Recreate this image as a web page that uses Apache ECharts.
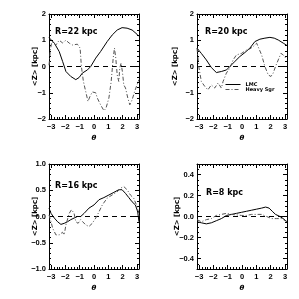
<!DOCTYPE html>
<html><head><meta charset="utf-8">
<script src="https://cdn.jsdelivr.net/npm/echarts@6/dist/echarts.min.js"></script>
<style>html,body{margin:0;padding:0;background:#fff}#c{width:299px;height:299px}</style>
</head><body><div id="c"></div>
<script>
// ---- data ----
const panelLabels = ['R=22 kpc', 'R=20 kpc', 'R=16 kpc', 'R=8 kpc'];
const xTicks = [-3, -2, -1, 0, 1, 2, 3];
const yTicks1 = [-2, -1, 0, 1, 2];
const yTicks2 = [-2, -1, 0, 1, 2];
const yTicks3 = [-1, -0.5, 0, 0.5, 1];
const yTicks4 = [-0.4, -0.2, 0, 0.2, 0.4];
const yDecimals = [0, 0, 1, 1];
const yRanges = [[-2, 2], [-2, 2], [-1, 1], [-0.5, 0.5]];
const yMinorStep = [0.2, 0.2, 0.1, 0.05];

// R=22 kpc
const th22L = [-3.14,-3.07,-2.77,-2.43,-2.19,-1.96,-1.62,-1.27,-1.04,-0.81,-0.46,-0.23,0.12,0.46,0.92,1.27,1.62,1.96,2.31,2.66,3.0,3.14];
const z22L  = [1.1,1.08,0.89,0.57,0.19,-0.19,-0.38,-0.5,-0.42,-0.25,-0.13,0,0.32,0.57,0.95,1.2,1.39,1.48,1.46,1.39,1.23,1.15];
const th22S = [-3.14,-3.05,-2.95,-2.66,-2.43,-2.2,-1.96,-1.73,-1.5,-1.16,-0.97,-0.88,-0.74,-0.58,-0.42,-0.28,-0.12,0.12,0.23,0.46,0.69,0.83,1.04,1.2,1.34,1.43,1.52,1.62,1.73,1.8,1.89,1.98,2.08,2.2,2.36,2.5,2.66,2.84,3.0,3.14];
const z22S  = [0.05,0.6,0.95,0.82,1.0,0.9,1.0,0.89,0.82,0.85,0.7,0,-0.57,-0.95,-1.33,-1.14,-0.97,-1.0,-1.2,-1.46,-1.68,-1.6,-1.2,-0.57,0.32,0.7,0.32,-0.32,-0.57,-0.06,0.13,-0.19,-0.7,-0.82,-1.2,-1.46,-1.27,-0.95,-0.7,-0.5];

// R=20 kpc
const th20L = [-3.14,-2.84,-2.49,-2.14,-1.79,-1.44,-1.08,-0.85,-0.5,-0.15,0.2,0.55,0.9,1.25,1.6,1.95,2.25,2.53,2.88,3.14];
const z20L  = [0.7,0.5,0.25,-0.04,-0.23,-0.19,-0.13,0,0.19,0.38,0.53,0.7,0.95,1.04,1.08,1.11,1.08,1.01,0.89,0.8];
const th20S = [-3.14,-3.0,-2.84,-2.61,-2.38,-2.14,-1.91,-1.67,-1.44,-1.32,-1.09,-0.85,-0.62,-0.39,-0.03,0.32,0.55,0.78,1.02,1.13,1.37,1.6,1.83,2.02,2.18,2.34,2.53,2.72,2.88,3.05,3.14];
const z20S  = [0.7,-0.06,-0.57,-0.75,-0.89,-0.7,-0.82,-0.63,-0.82,-0.57,-0.25,-0.06,0.25,0.44,0.5,0.63,0.67,0.76,0.89,0.82,0.44,0,-0.32,-0.38,-0.25,0,0.25,0.5,0.44,0.32,0.35];

// R=16 kpc
const th16L = [-3.14,-3.0,-2.77,-2.54,-2.31,-2.08,-1.85,-1.62,-1.39,-1.16,-0.93,-0.69,-0.35,0,0.35,0.69,1.04,1.39,1.73,1.96,2.2,2.43,2.66,2.89,3.05,3.14];
const z16L  = [0.16,0.06,-0.03,-0.1,-0.15,-0.13,-0.1,-0.06,-0.03,0,0,0.06,0.16,0.22,0.32,0.36,0.41,0.46,0.51,0.51,0.44,0.36,0.28,0.22,0.09,-0.1];
const th16S = [-3.14,-3.0,-2.89,-2.66,-2.43,-2.2,-2.08,-1.96,-1.73,-1.57,-1.39,-1.27,-1.11,-0.93,-0.58,-0.35,-0.12,0.12,0.35,0.58,0.92,1.27,1.62,1.85,2.08,2.31,2.54,2.77,2.96,3.1,3.14];
const z16S  = [0.03,-0.1,-0.22,-0.35,-0.35,-0.3,-0.35,-0.16,0.06,0.13,0.06,-0.1,-0.13,-0.06,-0.16,-0.19,-0.13,-0.03,0.09,0.22,0.35,0.41,0.47,0.54,0.57,0.51,0.41,0.35,0.22,0.09,0];

// R=8 kpc
const th8L = [-3.14,-2.84,-2.49,-2.14,-1.79,-1.44,-1.08,-0.73,-0.38,-0.03,0.32,0.67,1.02,1.37,1.65,1.89,2.11,2.34,2.65,2.88,3.14];
const z8L  = [-0.05,-0.06,-0.07,-0.06,-0.04,-0.02,0.01,0.02,0.03,0.04,0.05,0.06,0.07,0.08,0.09,0.08,0.05,0.02,0,-0.02,-0.05];
const th8S = [-3.14,-2.84,-2.49,-2.14,-1.79,-1.44,-1.08,-0.73,-0.38,-0.03,0.32,0.67,1.02,1.37,1.72,2.07,2.42,2.77,3.14];
const z8S  = [-0.03,-0.05,-0.03,-0.02,0.01,0.02,0.03,0.02,0.015,0.01,0.01,0.02,0.02,0.02,0,-0.02,-0.02,-0.02,-0.05];

// ---- chart ----
const PI = Math.PI;
const grids = [
  {left: 49, top: 14, width: 90, height: 105},
  {left: 197, top: 14, width: 90, height: 105},
  {left: 49, top: 164, width: 90, height: 105},
  {left: 197, top: 164, width: 90, height: 105}
];
const yTickSets = [yTicks1, yTicks2, yTicks3, yTicks4];
const yNameGap = [10, 18, 10, 16];
const lmcT = [th22L, th20L, th16L, th8L], lmcZ = [z22L, z20L, z16L, z8L];
const sgrT = [th22S, th20S, th16S, th8S], sgrZ = [z22S, z20S, z16S, z8S];

function range(a, b, s) { const r = []; for (let v = a; v <= b + 1e-9; v += s) r.push(+v.toFixed(4)); return r; }
const zip = (a, b) => a.map((v, i) => [v, b[i]]);
const font = 'DejaVu Sans';
const tickFont = 'Liberation Sans';
const xMinor = range(-3, 3, 0.2);
const line = (show) => ({show: show, onZero: false, lineStyle: {color: '#000', width: 1}});

const xAxes = [], yAxes = [], series = [];
grids.forEach((g, i) => {
  const base = {type: 'value', gridIndex: i, min: -PI, max: PI, splitLine: {show: false}};
  xAxes.push(Object.assign({}, base, {position: 'bottom', axisLine: line(true),
    axisTick: {show: true, inside: true, length: 4, customValues: xTicks, lineStyle: {color: '#000'}},
    axisLabel: {show: true, customValues: xTicks, margin: 4, fontSize: 7.5, fontWeight: 'bold', color: '#000', fontFamily: tickFont,
      formatter: v => String(Math.round(v)).replace('-', '−')},
    name: 'θ', nameLocation: 'middle', nameGap: 16, nameMoveOverlap: false,
    nameTextStyle: {fontSize: 7, fontStyle: 'italic', fontWeight: 'bold', color: '#000', fontFamily: font}}));
  xAxes.push(Object.assign({}, base, {position: 'bottom', axisLine: line(false),
    axisTick: {show: true, inside: true, length: 2, customValues: xMinor, lineStyle: {color: '#000'}}, axisLabel: {show: false}}));
  xAxes.push(Object.assign({}, base, {position: 'top', axisLine: line(true),
    axisTick: {show: true, inside: true, length: 4, customValues: xTicks, lineStyle: {color: '#000'}}, axisLabel: {show: false}}));
  xAxes.push(Object.assign({}, base, {position: 'top', axisLine: line(false),
    axisTick: {show: true, inside: true, length: 2, customValues: xMinor, lineStyle: {color: '#000'}}, axisLabel: {show: false}}));

  const yt = yTickSets[i];
  const yMinor = range(yRanges[i][0], yRanges[i][1], yMinorStep[i]);
  const ybase = {type: 'value', gridIndex: i, min: yRanges[i][0], max: yRanges[i][1], splitLine: {show: false}};
  yAxes.push(Object.assign({}, ybase, {position: 'left', axisLine: line(true),
    axisTick: {show: true, inside: true, length: 4, customValues: yt, lineStyle: {color: '#000'}},
    axisLabel: {show: true, customValues: yt, margin: 3, fontSize: 7.5, fontWeight: 'bold', color: '#000', fontFamily: tickFont,
      formatter: v => v.toFixed(yDecimals[i]).replace('-', '−')},
    name: '<Z> [kpc]', nameLocation: 'middle', nameGap: yNameGap[i], nameMoveOverlap: false,
    nameTextStyle: {fontSize: 7, fontWeight: 'bold', color: '#000', fontFamily: font}}));
  yAxes.push(Object.assign({}, ybase, {position: 'left', axisLine: line(false),
    axisTick: {show: true, inside: true, length: 2, customValues: yMinor, lineStyle: {color: '#000'}}, axisLabel: {show: false}}));
  yAxes.push(Object.assign({}, ybase, {position: 'right', axisLine: line(true),
    axisTick: {show: true, inside: true, length: 4, customValues: yt, lineStyle: {color: '#000'}}, axisLabel: {show: false}}));
  yAxes.push(Object.assign({}, ybase, {position: 'right', axisLine: line(false),
    axisTick: {show: true, inside: true, length: 2, customValues: yMinor, lineStyle: {color: '#000'}}, axisLabel: {show: false}}));

  const xi = i * 4, yi = i * 4;
  series.push({type: 'line', name: 'zero', xAxisIndex: xi, yAxisIndex: yi, data: [[-PI, 0], [PI, 0]],
    symbol: 'none', silent: true, lineStyle: {color: '#000', width: 1, type: [5, 4]}});
  series.push({type: 'line', name: 'LMC', xAxisIndex: xi, yAxisIndex: yi, data: zip(lmcT[i], lmcZ[i]),
    symbol: 'none', lineStyle: {color: '#000', width: 1, type: 'solid'}, itemStyle: {color: '#000'}});
  series.push({type: 'line', name: 'Heavy Sgr', xAxisIndex: xi, yAxisIndex: yi, data: zip(sgrT[i], sgrZ[i]),
    symbol: 'none', lineStyle: {color: '#555', width: 1, type: [4, 2, 1, 2]}, itemStyle: {color: '#555'}});
});

const titlePos = [[55, 28], [205, 28], [55, 182], [206, 189]];
const graphic = panelLabels.map((t, i) => ({type: 'text', left: titlePos[i][0], top: titlePos[i][1],
  style: {text: t, font: 'bold 8px "DejaVu Sans"', fill: '#000'}}));

const chart = echarts.init(document.getElementById('c'), null, {renderer: 'canvas'});
chart.setOption({
  animation: false,
  backgroundColor: '#fff',
  grid: grids,
  xAxis: xAxes,
  yAxis: yAxes,
  series: series,
  graphic: graphic,
  legend: {show: true, data: ['LMC', 'Heavy Sgr'], orient: 'vertical', left: 225, top: 82, itemWidth: 15, itemHeight: 5, itemGap: 0,
    selectedMode: false, padding: 0,
    itemStyle: {color: 'rgba(0,0,0,0)', borderWidth: 0, opacity: 0},
    lineStyle: {width: 1},
    textStyle: {fontSize: 5, fontWeight: 'bold', color: '#000', fontFamily: font}}
});
</script></body></html>
